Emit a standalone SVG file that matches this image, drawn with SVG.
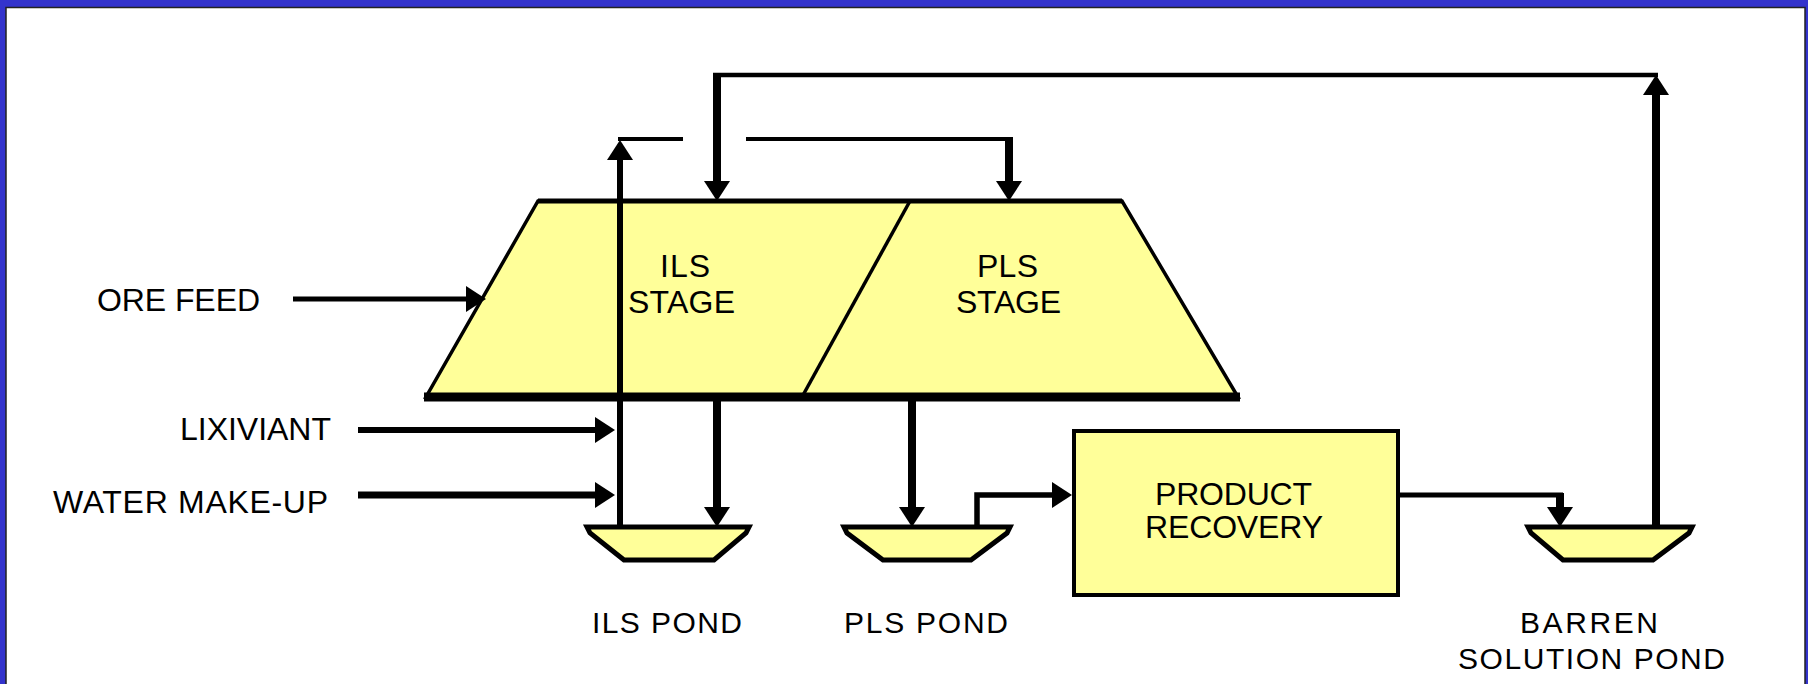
<svg xmlns="http://www.w3.org/2000/svg" width="1808" height="684" viewBox="0 0 1808 684">
<style>
  .lbl { font-family: "Liberation Sans", Arial, sans-serif; font-size: 32px; fill: #000; }
  .pond-lbl { font-family: "Liberation Sans", Arial, sans-serif; font-size: 30px; fill: #000; }
  .shape { fill: #FFFF99; stroke: #000; }
  .ln { fill: none; stroke: #000; stroke-linecap: butt; stroke-linejoin: miter; }
</style>
<defs>
  <marker id="arr" viewBox="0 -13 20 26" markerWidth="20" markerHeight="26" refX="0" refY="0" orient="auto" markerUnits="userSpaceOnUse" overflow="visible">
    <path d="M0,-13 L20,0 L0,13 Z" fill="#000"/>
  </marker>
</defs>

<rect x="0" y="0" width="1808" height="684" fill="#3333CC"/>
<rect x="6" y="7.5" width="1799" height="690" fill="#FFFFFF" stroke="#222" stroke-width="1.5"/>

<g id="heap">
  <polygon class="shape" points="538,201 1122,201 1238,397 426,397" stroke-width="3.5"/>
  <line x1="538" y1="201" x2="1122" y2="201" stroke="#000" stroke-width="5"/>
  <line x1="424" y1="397" x2="1240" y2="397" stroke="#000" stroke-width="9"/>
  <line x1="910" y1="201" x2="802" y2="397" stroke="#000" stroke-width="3.5"/>
</g>
<g id="ils-stage">
  <text class="lbl" x="660" y="277" textLength="50" lengthAdjust="spacing">ILS</text>
  <text class="lbl" x="628" y="313" textLength="107" lengthAdjust="spacing">STAGE</text>
</g>
<g id="pls-stage">
  <text class="lbl" x="977" y="277" textLength="61" lengthAdjust="spacing">PLS</text>
  <text class="lbl" x="956" y="313" textLength="105" lengthAdjust="spacing">STAGE</text>
</g>

<g id="ils-pond">
  <polygon class="shape" stroke-width="5" points="587,527 749,527 746,533 714,560 624,560 590,533"/>
  <text class="pond-lbl" x="592" y="633" textLength="150" lengthAdjust="spacing">ILS POND</text>
</g>
<g id="pls-pond">
  <polygon class="shape" stroke-width="5" points="844,527 1010,527 1007,533 971,560 883,560 847,533"/>
  <text class="pond-lbl" x="844" y="633" textLength="164" lengthAdjust="spacing">PLS POND</text>
</g>
<g id="barren-pond">
  <polygon class="shape" stroke-width="5" points="1528,527 1692,527 1689,533 1653,560 1563,560 1531,533"/>
  <text class="pond-lbl" x="1520" y="633" textLength="138" lengthAdjust="spacing">BARREN</text>
  <text class="pond-lbl" x="1458" y="669" textLength="267" lengthAdjust="spacing">SOLUTION POND</text>
</g>
<g id="product-recovery">
  <rect class="shape" x="1074" y="431" width="324" height="164" stroke-width="4"/>
  <text class="lbl" x="1155" y="505" textLength="157" lengthAdjust="spacing">PRODUCT</text>
  <text class="lbl" x="1145" y="538" textLength="178" lengthAdjust="spacing">RECOVERY</text>
</g>
<g id="ore-feed">
  <text class="lbl" x="97" y="311" textLength="163" lengthAdjust="spacing">ORE FEED</text>
</g>
<g id="lixiviant">
  <text class="lbl" x="180" y="440" textLength="151" lengthAdjust="spacing">LIXIVIANT</text>
</g>
<g id="water-make-up">
  <text class="lbl" x="53" y="513" textLength="275" lengthAdjust="spacing">WATER MAKE-UP</text>
</g>

<g id="connectors">
  <!-- barren solution recycle loop -->
  <line class="ln" x1="1656" y1="527" x2="1656" y2="95" stroke-width="8" marker-end="url(#arr)"/>
  <line class="ln" x1="1658" y1="75" x2="713" y2="75" stroke-width="4.5"/>
  <line class="ln" x1="717" y1="73" x2="717" y2="181" stroke-width="8" marker-end="url(#arr)"/>
  <!-- ILS recirculation -->
  <line class="ln" x1="620" y1="527" x2="620" y2="160" stroke-width="6" marker-end="url(#arr)"/>
  <line class="ln" x1="618" y1="139" x2="683" y2="139" stroke-width="4"/>
  <polyline class="ln" points="746,139 1009,139 1009,181" stroke-width="4"/>
  <line class="ln" x1="1009" y1="137" x2="1009" y2="181" stroke-width="8" marker-end="url(#arr)"/>
  <!-- heap to ponds -->
  <line class="ln" x1="717" y1="401" x2="717" y2="507" stroke-width="8" marker-end="url(#arr)"/>
  <line class="ln" x1="912" y1="401" x2="912" y2="507" stroke-width="8" marker-end="url(#arr)"/>
  <!-- PLS pond to product recovery -->
  <polyline class="ln" points="977,527 977,495 1052,495" stroke-width="5.5" marker-end="url(#arr)"/>
  <!-- product recovery to barren pond -->
  <line class="ln" x1="1400" y1="495" x2="1563" y2="495" stroke-width="5"/>
  <line class="ln" x1="1560" y1="493" x2="1560" y2="507" stroke-width="8" marker-end="url(#arr)"/>
  <!-- inputs -->
  <line class="ln" x1="293" y1="299" x2="466" y2="299" stroke-width="5" marker-end="url(#arr)"/>
  <line class="ln" x1="358" y1="430" x2="595" y2="430" stroke-width="6" marker-end="url(#arr)"/>
  <line class="ln" x1="358" y1="495" x2="595" y2="495" stroke-width="7" marker-end="url(#arr)"/>
</g>
</svg>
